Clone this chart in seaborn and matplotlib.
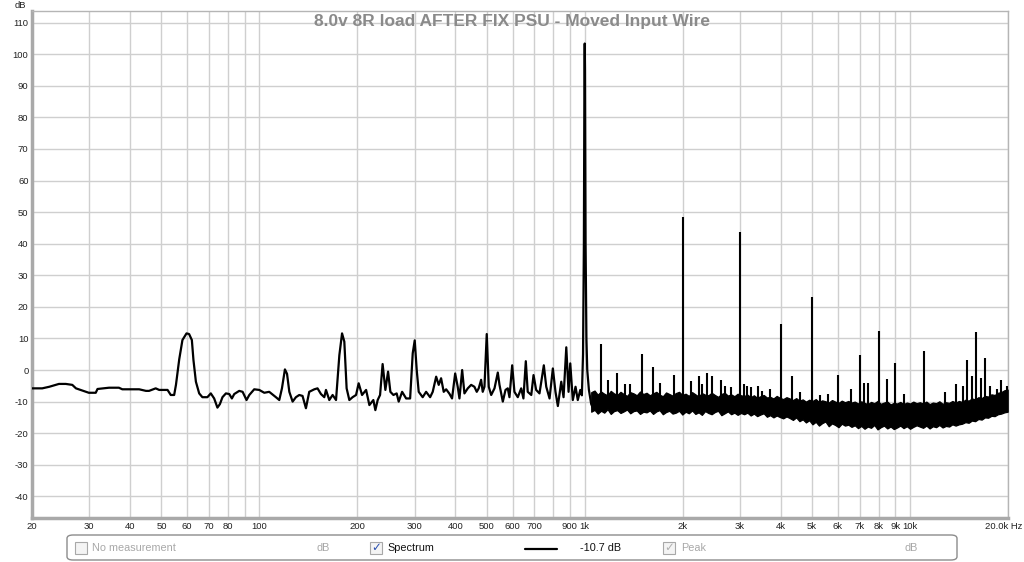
import matplotlib
matplotlib.use("Agg")
import matplotlib.pyplot as plt
import matplotlib.transforms as mtransforms
import seaborn as sns
import pandas as pd
from matplotlib.patches import FancyBboxPatch, Rectangle
from matplotlib.lines import Line2D
from matplotlib.ticker import NullLocator

# ---------------- data ----------------
title = "8.0v 8R load AFTER FIX PSU - Moved Input Wire"

trace_freq = [20.0, 21.5, 22.6, 24.2, 25.4, 26.6, 27.3, 28.6, 29.9, 31.4, 31.8, 34.5, 37.0, 37.9,
              42.7, 44.8, 45.8, 48.0, 49.2, 52.2, 53.4, 54.7, 55.4, 56.7, 58.0, 59.7, 60.8, 62.0,
              62.7, 63.8, 65.3, 66.8, 69.2, 70.9, 72.6, 74.3, 75.6, 77.0, 78.9, 80.8, 82.3, 83.7,
              86.7, 88.8, 91.3, 93.1, 96.4, 99.9, 103.5, 107.2, 112.4, 115.1, 117.3, 119.8, 121.6,
              123.6, 126.5, 129.5, 132.6, 135.7, 139.0, 142.3, 147.5, 150.9, 154.6, 158.3, 160.2,
              164.0, 167.9, 172.0, 176.1, 179.5, 182.4, 185.4, 189.0, 193.4, 198.2, 201.9, 206.8,
              212.8, 217.8, 224.0, 227.2, 231.0, 234.9, 239.2, 243.9, 248.6, 252.7, 258.2, 264.2,
              268.0, 274.6, 282.5, 290.6, 296.0, 300.2, 304.5, 308.8, 317.6, 325.4, 334.8, 341.0,
              349.4, 355.8, 361.8, 368.6, 375.0, 383.8, 391.0, 399.7, 407.0, 412.0, 420.0, 426.8,
              437.0, 447.6, 458.0, 465.7, 472.2, 480.3, 485.8, 491.8, 499.8, 507.0, 515.8, 528.0,
              540.5, 547.0, 560.0, 570.8, 580.0, 587.0, 598.4, 608.0, 622.6, 637.8, 648.0, 659.0,
              668.0, 685.0, 696.0, 709.0, 726.0, 748.6, 761.6, 779.6, 798.0, 813.0, 826.8, 847.0,
              860.8, 877.6, 891.8, 902.6, 919.0, 937.0, 952.0, 969.0, 980.0, 988.0, 994.0, 998.0,
              1000.0, 1002.0, 1006.0, 1012.0, 1018.0, 1030.0, 1047.0, 1067.0]
trace_db = [-5.8, -5.8, -5.3, -4.4, -4.4, -4.7, -5.8, -6.5, -7.2, -7.2, -6.0, -5.6, -5.6, -6.1,
            -6.1, -6.6, -6.6, -5.8, -6.3, -6.3, -7.9, -7.9, -4.7, 3.4, 9.5, 11.6, 11.4, 9.5,
            3.2, -3.7, -7.4, -8.6, -8.6, -7.4, -9.0, -11.9, -10.8, -8.6, -7.4, -7.6, -9.0, -7.6,
            -6.6, -6.9, -9.5, -7.9, -6.1, -6.3, -7.2, -6.9, -8.6, -9.5, -5.8, 0.2, -1.2,
            -6.9, -10.0, -8.6, -7.9, -8.2, -12.1, -6.9, -6.1, -5.8, -7.6, -8.6, -6.3,
            -9.5, -7.9, -9.5, 4.7, 11.6, 9.0, -5.8, -9.5, -8.6, -7.9, -4.2, -7.9,
            -6.3, -11.1, -9.5, -12.7, -9.5, -7.9, 1.9, -6.3, -0.5, -6.9, -7.9, -7.4,
            -10.0, -6.9, -9.0, -9.0, 5.3, 9.4, 0.0, -6.9, -8.6, -6.9, -8.6, -6.9,
            -2.1, -4.7, -2.6, -6.9, -6.1, -7.5, -9.0, -1.1, -5.3, -9.0, 0.0, -7.4,
            -5.8, -4.7, -5.3, -6.9, -5.8, -3.1, -6.9, -5.3, 11.4, -5.3, -7.9, -5.8,
            -0.8, -4.7, -10.0, -6.3, -5.8, -8.6, 1.5, -6.9, -8.6, -5.8, -9.0, 2.8,
            -6.9, -7.9, -1.6, -6.3, -7.4, 1.5, -5.3, -9.0, 0.5, -6.9, -11.4, -3.7,
            -8.6, 7.2, -6.9, 2.1, -9.5, -5.3, -9.5, -6.3, -8.0, 5.0, 40.0, 95.0,
            103.4, 95.0, 40.0, 10.0, 0.0, -6.3, -10.8, -12.7]

band_freq = [1047, 1072, 1096, 1122, 1148, 1175, 1202, 1230, 1259, 1288, 1318, 1349, 1380, 1413,
             1445, 1479, 1514, 1549, 1585, 1622, 1660, 1698, 1738, 1778, 1820, 1862, 1905, 1950,
             1995, 2042, 2089, 2138, 2188, 2239, 2291, 2344, 2399, 2455, 2512, 2570, 2630, 2692,
             2754, 2818, 2884, 2951, 3020, 3090, 3162, 3236, 3311, 3388, 3467, 3548, 3631, 3715,
             3802, 3890, 3981, 4074, 4169, 4266, 4365, 4467, 4571, 4677, 4786, 4898, 5012, 5129,
             5248, 5370, 5495, 5623, 5754, 5888, 6026, 6166, 6310, 6457, 6607, 6761, 6918, 7079,
             7244, 7413, 7586, 7762, 7943, 8128, 8318, 8511, 8710, 8913, 9120, 9333, 9550, 9772,
             10000, 10233, 10471, 10715, 10965, 11220, 11482, 11749, 12023, 12303, 12589, 12882,
             13183, 13490, 13804, 14125, 14454, 14791, 15136, 15488, 15849, 16218, 16596, 16982,
             17378, 17783, 18197, 18621, 19055, 19498, 19953]
band_hi = [-7.0, -6.5, -7.8, -6.8, -7.5, -8.0, -6.6, -7.4, -7.9, -6.9, -7.6, -8.2, -7.0, -7.4, -8.0, -6.8, -7.6,
           -7.2, -8.0, -7.4, -6.9, -7.8, -8.3, -7.1, -7.6, -8.1, -7.3, -6.9, -7.9, -7.5, -8.2, -7.0,
           -7.7, -8.4, -7.3, -7.8, -8.0, -7.2, -7.9, -8.5, -7.6, -7.2, -8.1, -7.7, -8.3, -7.5, -8.0,
           -8.2, -7.8, -8.6, -8.0, -8.8, -8.3, -7.9, -8.7, -8.5, -9.0, -8.2, -8.8, -9.2, -8.6,
           -9.0, -9.5, -8.9, -9.7, -9.3, -10.0, -9.4, -9.8, -9.2, -10.1, -9.6, -9.9, -10.3, -9.5,
           -10.0, -10.4, -9.7, -10.2,
           -9.8, -10.3, -10.0, -10.6, -9.9, -10.4, -10.8, -10.1, -10.5, -9.8, -10.7, -10.3, -10.0,
           -10.9, -10.4, -10.6, -10.1, -10.8, -10.3, -10.6, -10.0, -10.5,
           -10.2, -10.6, -10.0, -10.8, -10.3, -10.5, -9.9, -10.7, -10.2, -10.4, -9.8, -10.3,
           -9.8, -10.1, -9.4, -9.7, -9.0, -9.3, -8.6, -8.9, -8.2, -8.4, -7.7, -7.9, -7.2, -7.0,
           -6.4, -6.2]
band_lo = [-13.2, -12.6, -13.8, -12.9, -13.5, -12.4, -13.9, -13.0, -12.7, -13.6, -13.1, -12.5, -13.7,
           -13.0, -12.8, -13.9, -13.2,
           -13.4, -12.8, -13.9, -13.1, -12.7, -14.0, -13.3, -12.9, -13.8, -13.5, -12.9, -14.1, -13.2,
           -13.7, -12.8, -13.9, -13.4, -14.2, -13.0, -13.6, -14.0, -13.3, -12.9, -14.3, -13.7, -13.1,
           -14.0, -13.5, -14.2, -13.6,
           -14.0, -13.5, -14.4, -13.8, -14.6, -14.1, -13.7, -14.8, -14.3, -15.0, -14.4, -14.9,
           -15.3, -14.7,
           -15.2, -15.8, -15.0, -16.2, -15.6, -16.6, -15.9, -17.2, -16.4, -17.6, -16.8, -16.3,
           -17.8, -16.9, -17.4, -18.1, -17.0, -17.6,
           -17.3, -18.0, -17.5, -18.4, -17.7, -18.6, -17.9, -18.3, -17.4, -18.8, -18.1, -17.6,
           -18.5, -17.9, -18.7, -18.2, -17.6, -18.4, -17.8, -18.6, -18.0, -17.5,
           -17.9, -18.3, -17.6, -18.5, -17.8, -18.1, -17.4, -18.2, -17.7, -17.9, -17.2, -17.6,
           -17.2, -17.0, -16.5, -16.7, -16.0, -16.2, -15.5, -15.7, -15.0, -15.1, -14.5, -14.6,
           -14.0, -13.8, -13.4, -13.2]

spike_freq = [1120, 1180, 1260, 1330, 1380, 1500, 1620, 1700, 1880, 2000, 2120, 2240, 2300, 2380,
              2460, 2620, 2700, 2820, 3000, 3080, 3150, 3250, 3400, 3500, 3700, 4000, 4350, 4600,
              5000, 5300, 5600, 6000, 6600, 7000, 7200, 7400, 8000, 8500, 9000, 9600, 11000,
              12800, 13800, 14500, 15000, 15500, 16000, 16500, 17000, 17600, 18500, 19000, 19800]
spike_db = [8.4, -3.0, -0.9, -4.5, -4.4, 5.1, 1.0, -4.0, -1.7, 48.4, -3.5, -2.0, -4.5, -0.8,
            -2.0, -3.0, -5.0, -5.5, 43.7, -4.5, -5.0, -5.5, -5.0, -6.5, -6.0, 14.6, -2.0, -7.0,
            23.1, -8.0, -7.5, -1.5, -6.0, 4.9, -4.0, -4.2, 12.5, -2.7, 2.1, -7.5, 6.0,
            -6.8, -4.5, -5.0, 3.3, -2.0, 11.9, -2.6, 3.7, -5.0, -6.0, -3.2, -5.0]

x_ticks = [20, 30, 40, 50, 60, 70, 80, 90, 100, 200, 300, 400, 500, 600, 700, 800, 900,
           1000, 2000, 3000, 4000, 5000, 6000, 7000, 8000, 9000, 10000, 20000]
x_tick_labels = ["20", "30", "40", "50", "60", "70", "80", "", "100", "200", "300", "400", "500",
                 "600", "700", "", "900", "1k", "2k", "3k", "4k", "5k", "6k", "7k", "8k", "9k",
                 "10k", "20.0k Hz"]
y_ticks = [-40, -30, -20, -10, 0, 10, 20, 30, 40, 50, 60, 70, 80, 90, 100, 110]

# ---------------- style ----------------
sns.set_theme(style="white")
plt.rcParams['font.family'] = ['Liberation Sans', 'DejaVu Sans']

W, H = 1024, 562
fig = plt.figure(figsize=(W / 100, H / 100), dpi=100)
fig.patch.set_facecolor("white")

def fx(px):
    return px / W

def fy(py):
    return 1 - py / H

ax_l, ax_r, ax_t, ax_b = 32, 1008, 11, 517.5
ax = fig.add_axes([fx(ax_l), fy(ax_b), (ax_r - ax_l) / W, (ax_b - ax_t) / H])
ax.set_facecolor("white")

ax.set_xscale("log")
df = pd.DataFrame({"freq": trace_freq, "db": trace_db})
sns.lineplot(data=df, x="freq", y="db", ax=ax, color="black", linewidth=1.6,
             sort=False, estimator=None, zorder=3)
ax.fill_between(band_freq, band_lo, band_hi, color="black", linewidth=0.9, zorder=3)
ax.vlines(spike_freq, -11, spike_db, color="black", linewidth=1.5, zorder=3)

ax.set_xlim(20, 20000)
ax.set_ylim(-46.7, 113.7)
ax.set_xticks(x_ticks)
ax.set_xticklabels(x_tick_labels)
ax.xaxis.set_minor_locator(NullLocator())
ax.set_yticks(y_ticks)
ax.set_yticklabels([str(v) for v in y_ticks])
ax.grid(True, which="major", color="#cfcfcf", linewidth=1.0, zorder=0)
ax.set_axisbelow(True)
ax.tick_params(axis="both", length=0, labelsize=6.8, colors="#222222")
ax.tick_params(axis="y", pad=2.5)
ax.tick_params(axis="x", pad=3.5)
ax.set_xlabel("")
ax.set_ylabel("")
for side in ["left", "bottom"]:
    ax.spines[side].set_color("#a9a9a9")
    ax.spines[side].set_linewidth(2.5)
for side in ["top", "right"]:
    ax.spines[side].set_color("#b5b5b5")
    ax.spines[side].set_linewidth(1.0)

# shift the last x label left so it stays inside the figure, as in the reference
last_lbl = ax.get_xticklabels()[-1]
last_lbl.set_transform(last_lbl.get_transform() +
                       mtransforms.ScaledTranslation(-4 / 100, 0, fig.dpi_scale_trans))

fig.text(0.5, fy(21.5), title, ha="center", va="center", fontsize=12.5,
         fontweight="bold", color="#8a8a8a")
fig.text(fx(20), fy(5), "dB", ha="center", va="center", fontsize=6.8, color="#222222")

# ---------------- legend box ----------------
box = FancyBboxPatch((fx(67), fy(560)), (957 - 67) / W, (560 - 535) / H,
                     boxstyle="round,pad=0,rounding_size=0.006",
                     transform=fig.transFigure, facecolor="white", edgecolor="#8c8c8c",
                     linewidth=1.0)
fig.patches.append(box)

yc = fy(548)

def checkbox(x0, checked, check_color):
    r = Rectangle((fx(x0), fy(554)), 12 / W, 12 / H, transform=fig.transFigure,
                  facecolor="#f4f4f4", edgecolor="#a8a8a8", linewidth=0.8)
    fig.patches.append(r)
    if checked:
        fig.text(fx(x0 + 6), fy(547.5), "\u2713", ha="center", va="center",
                 fontsize=8.5, color=check_color, family=["DejaVu Sans"])

checkbox(75, False, None)
fig.text(fx(92), yc, "No measurement", ha="left", va="center", fontsize=7.8, color="#a8a8a8")
fig.text(fx(323), yc, "dB", ha="center", va="center", fontsize=7.8, color="#a8a8a8")
checkbox(370, True, "#2a4fb0")
fig.text(fx(387), yc, "Spectrum", ha="left", va="center", fontsize=7.8, color="#111111")
fig.lines.append(Line2D([fx(525), fx(557)], [fy(549), fy(549)], transform=fig.transFigure,
                        color="black", linewidth=1.6))
fig.text(fx(601), yc, "-10.7 dB", ha="center", va="center", fontsize=7.8, color="#111111")
checkbox(663, True, "#b0b0b0")
fig.text(fx(681), yc, "Peak", ha="left", va="center", fontsize=7.8, color="#a8a8a8")
fig.text(fx(911), yc, "dB", ha="center", va="center", fontsize=7.8, color="#a8a8a8")

fig.savefig("out.png", dpi=100, facecolor="white")
